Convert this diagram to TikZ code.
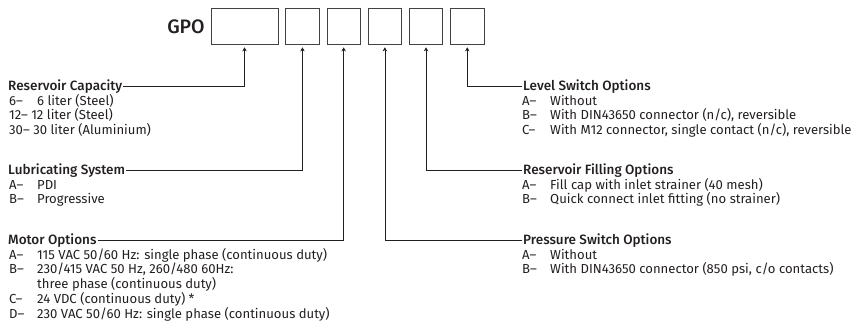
\documentclass[tikz,border=0pt]{standalone}
\usepackage{fontspec}
\setmainfont{Fira Sans}[BoldFont={Fira Sans Medium}]
\usetikzlibrary{arrows.meta,positioning}
\definecolor{ink}{HTML}{231F20}
\newcommand{\opt}[2]{\makebox[28pt][l]{#1}#2}

\begin{document}
\begin{tikzpicture}[x=1pt, y=-1pt, every node/.style={text=ink},
  codebox/.style={draw=ink!85, line width=0.7pt, minimum width=33.5pt, minimum height=36pt, inner sep=0pt},
  head/.style={anchor=base west, inner sep=1pt, font=\fontsize{13.5}{14}\selectfont\bfseries},
  item/.style={anchor=base west, inner sep=0pt, font=\fontsize{13.1}{14}\selectfont},
  link/.style={draw=ink, line width=0.6pt, -{Stealth[length=4pt,width=4.5pt]}, shorten >=3pt}]
\useasboundingbox (0,0) rectangle (859,331);
% order code
\node[font=\fontsize{19.5}{22}\selectfont\bfseries] (gpo) at (186,27) {GPO};
\node[codebox, minimum width=67pt] (box1) at (244.5,26) {};
\node[codebox, right=7pt of box1] (box2) {};
\node[codebox, right=7pt of box2] (box3) {};
\node[codebox, right=7pt of box3] (box4) {};
\node[codebox, right=7pt of box4] (box5) {};
\node[codebox, right=7pt of box5] (box6) {};
% left column
\node[head] (cap) at (7,90.3) {Reservoir Capacity};
\node[item] at (9,105.1) {\opt{6–}{6 liter (Steel)}};
\node[item] at (9,119.9) {12– 12 liter (Steel)};
\node[item] at (9,134.7) {30– 30 liter (Aluminium)};
\node[head] (lub) at (7,174.3) {Lubricating System};
\node[item] at (9,189.1) {\opt{A–}{PDI}};
\node[item] at (9,203.9) {\opt{B–}{Progressive}};
\node[head] (mot) at (7,244.3) {Motor Options};
\foreach \t [count=\i] in {{\opt{A–}{115 VAC 50/60 Hz: single phase (continuous duty)}},
  {\opt{B–}{230/415 VAC 50 Hz, 260/480 60Hz:}},
  {\opt{}{three phase (continuous duty)}},
  {\opt{C–}{24 VDC (continuous duty) *}},
  {\opt{D–}{230 VAC 50/60 Hz: single phase (continuous duty)}}}
  \node[item] at (9,244.3+\i*14.8) {\t};
% right column
\node[head] (lvl) at (522,90.3) {Level Switch Options};
\node[item] at (522,105.1) {\opt{A–}{Without}};
\node[item] at (522,119.9) {\opt{B–}{With DIN43650 connector (n/c), reversible}};
\node[item] at (522,134.7) {\opt{C–}{With M12 connector, single contact (n/c), reversible}};
\node[head] (fill) at (522,174.3) {Reservoir Filling Options};
\node[item] at (522,189.1) {\opt{A–}{Fill cap with inlet strainer (40 mesh)}};
\node[item] at (522,203.9) {\opt{B–}{Quick connect inlet fitting (no strainer)}};
\node[head] (press) at (522,244.3) {Pressure Switch Options};
\node[item] at (522,259.1) {\opt{A–}{Without}};
\node[item] at (522,273.9) {\opt{B–}{With DIN43650 connector (850 psi, c/o contacts)}};
% connectors
\draw[link] (cap.east) -| (box1.south);
\draw[link] (lub.east) -| (box2.south);
\draw[link] (mot.east) -| (box3.south);
\draw[link] (press.west) -| (box4.south);
\draw[link] (fill.west) -| (box5.south);
\draw[link] (lvl.west) -| (box6.south);
\end{tikzpicture}
\end{document}
